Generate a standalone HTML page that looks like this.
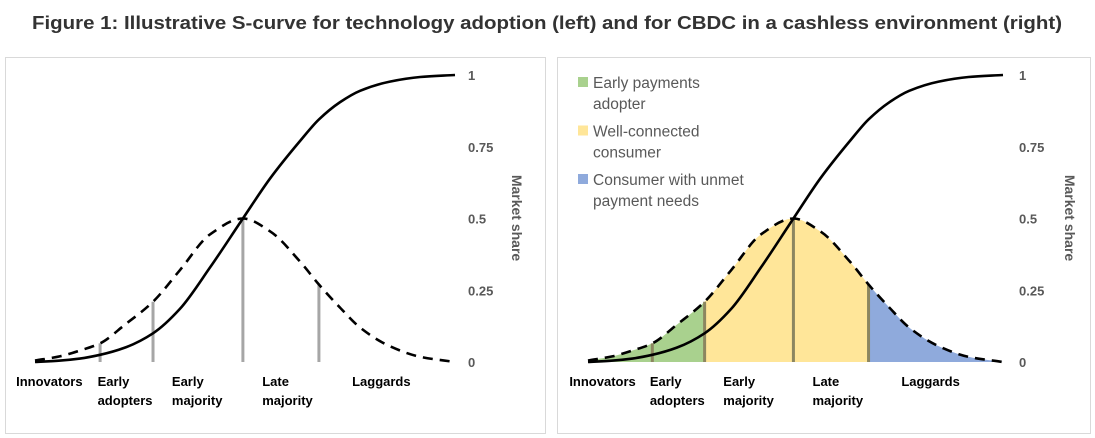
<!DOCTYPE html>
<html><head><meta charset="utf-8"><style>
html,body{margin:0;padding:0;background:#fff;}
svg{display:block;font-family:"Liberation Sans",sans-serif;}
</style></head><body>
<svg id="fig" width="1095" height="438" viewBox="0 0 1095 438">
<text x="32" y="29" font-size="18.5" font-weight="bold" fill="#333" textLength="1030" lengthAdjust="spacingAndGlyphs">Figure 1: Illustrative S-curve for technology adoption (left) and for CBDC in a cashless environment (right)</text>
<rect x="5.5" y="57.5" width="540" height="376" fill="none" stroke="#d9d9d9"/>
<rect x="557.5" y="57.5" width="533" height="376" fill="none" stroke="#d9d9d9"/>
<g id="left"></g>
<g id="right"></g>
</svg>
<script>
const xs = [0,6,10.7,15.5,21.4,28.1,34.5,41.7,49.5,56,63.1,67.6,72.6,77.4,84.5,91.7,100];
const sCurve = [0,0.005,0.012,0.025,0.05,0.1,0.185,0.33,0.5,0.64,0.77,0.845,0.905,0.945,0.977,0.993,1];
const bell = [0.005,0.02,0.04,0.065,0.13,0.21,0.32,0.445,0.5,0.455,0.35,0.27,0.19,0.12,0.055,0.018,0];
const dividers = [15.5,28.1,49.5,67.6];
const yTicks = [0,0.25,0.5,0.75,1];
const tickLabels = ["0","0.25","0.5","0.75","1"];
const categories = [["Innovators"],["Early","adopters"],["Early","majority"],["Late","majority"],["Laggards"]];
const catX = [-4.5,14.9,32.6,54.1,75.5];
const legendLabels = [["Early payments","adopter"],["Well-connected","consumer"],["Consumer with unmet","payment needs"]];
const legendColors = ["#a9d18e","#ffe699","#8faadc"];
const NS="http://www.w3.org/2000/svg";
function mk(tag,attrs,parent){const e=document.createElementNS(NS,tag);for(const k in attrs)e.setAttribute(k,attrs[k]);parent.appendChild(e);return e;}
// monotone cubic tangents
function tangents(xv,yv){const n=xv.length,d=[],m=[];for(let i=0;i<n-1;i++)d.push((yv[i+1]-yv[i])/(xv[i+1]-xv[i]));m[0]=d[0];m[n-1]=d[n-2];for(let i=1;i<n-1;i++){if(d[i-1]*d[i]<=0)m[i]=0;else{const h0=xv[i]-xv[i-1],h1=xv[i+1]-xv[i];const w1=2*h1+h0,w2=h1+2*h0;m[i]=(w1+w2)/(w1/d[i-1]+w2/d[i]);}}return m;}
function interp(xv,yv,v){const m=tangents(xv,yv);for(let i=0;i<xv.length-1;i++){if(v>=xv[i]&&v<=xv[i+1]){const h=xv[i+1]-xv[i],t=(v-xv[i])/h,t2=t*t,t3=t2*t;return (2*t3-3*t2+1)*yv[i]+(t3-2*t2+t)*h*m[i]+(-2*t3+3*t2)*yv[i+1]+(t3-t2)*h*m[i+1];}}return 0;}
function curvePath(yv,X,Y){const m=tangents(xs,yv);let d="M"+X(xs[0])+","+Y(yv[0]);for(let i=0;i<xs.length-1;i++){const h=xs[i+1]-xs[i];d+=" C"+X(xs[i]+h/3)+","+Y(yv[i]+m[i]*h/3)+" "+X(xs[i+1]-h/3)+","+Y(yv[i+1]-m[i+1]*h/3)+" "+X(xs[i+1])+","+Y(yv[i+1]);}return d;}
function draw(g,x0,x1,tickX,titleX,colored){
  const X=v=>x0+(x1-x0)*v/100, Y=v=>362-287*v;
  if(colored){
    const bounds=[[0,28.1],[28.1,67.6],[67.6,100]];
    bounds.forEach((b,k)=>{
      const pts=[];for(let v=b[0];v<=b[1]+1e-9;v+=0.5)pts.push([X(v),Y(interp(xs,bell,v))]);
      pts.push([X(b[1]),Y(interp(xs,bell,b[1]))]);
      let d="M"+X(b[0])+","+Y(0)+" L"+pts.map(p=>p.join(",")).join(" L")+" L"+X(b[1])+","+Y(0)+"Z";
      const a=mk("path",{d:d,fill:legendColors[k]},g);
      
      
    });
  }
  dividers.forEach((v,i)=>{
    const l=mk("line",{x1:X(v),x2:X(v),y1:Y(0),y2:Y(interp(xs,bell,v)),stroke:colored?"#8c8660":"#a6a6a6","stroke-width":3},g);
    
    
  });
  const b=mk("path",{d:curvePath(bell,X,Y),fill:"none",stroke:"#000","stroke-width":2.6,"stroke-dasharray":"10,7"},g);
  
  
  const s=mk("path",{d:curvePath(sCurve,X,Y),fill:"none",stroke:"#000","stroke-width":2.6},g);
  
  
  yTicks.forEach((v,i)=>{
    const t=mk("text",{x:tickX,y:Y(v)+5,"font-size":13,"font-weight":"bold",fill:"#595959"},g);
    t.textContent=tickLabels[i];
    
    
  });
  const at=mk("text",{x:0,y:0,"font-size":14,"font-weight":"bold",fill:"#595959","text-anchor":"middle",transform:"translate("+titleX+",218) rotate(90)"},g);
  at.textContent="Market share";
  
  
  categories.forEach((c,i)=>{
    c.forEach((ln,j)=>{
      const t=mk("text",{x:X(catX[i]),y:386+j*19,"font-size":13,"font-weight":"bold",fill:"#000"},g);
      t.textContent=ln;
      
      
    });
  });
}
draw(document.getElementById('left'),35,455,468,512,false);
draw(document.getElementById('right'),588,1003,1019,1065,true);
const rg=document.getElementById('right');
legendLabels.forEach((lab,i)=>{
  const y0=84+i*48.5;
  const r=mk("rect",{x:578,y:y0-7,width:10,height:10,fill:legendColors[i]},rg);
  
  
  lab.forEach((ln,j)=>{
    const t=mk("text",{x:593,y:y0+4+j*21,"font-size":15.5,fill:"#595959"},rg);
    t.textContent=ln;
    
    
  });
});
</script>
</body></html>
